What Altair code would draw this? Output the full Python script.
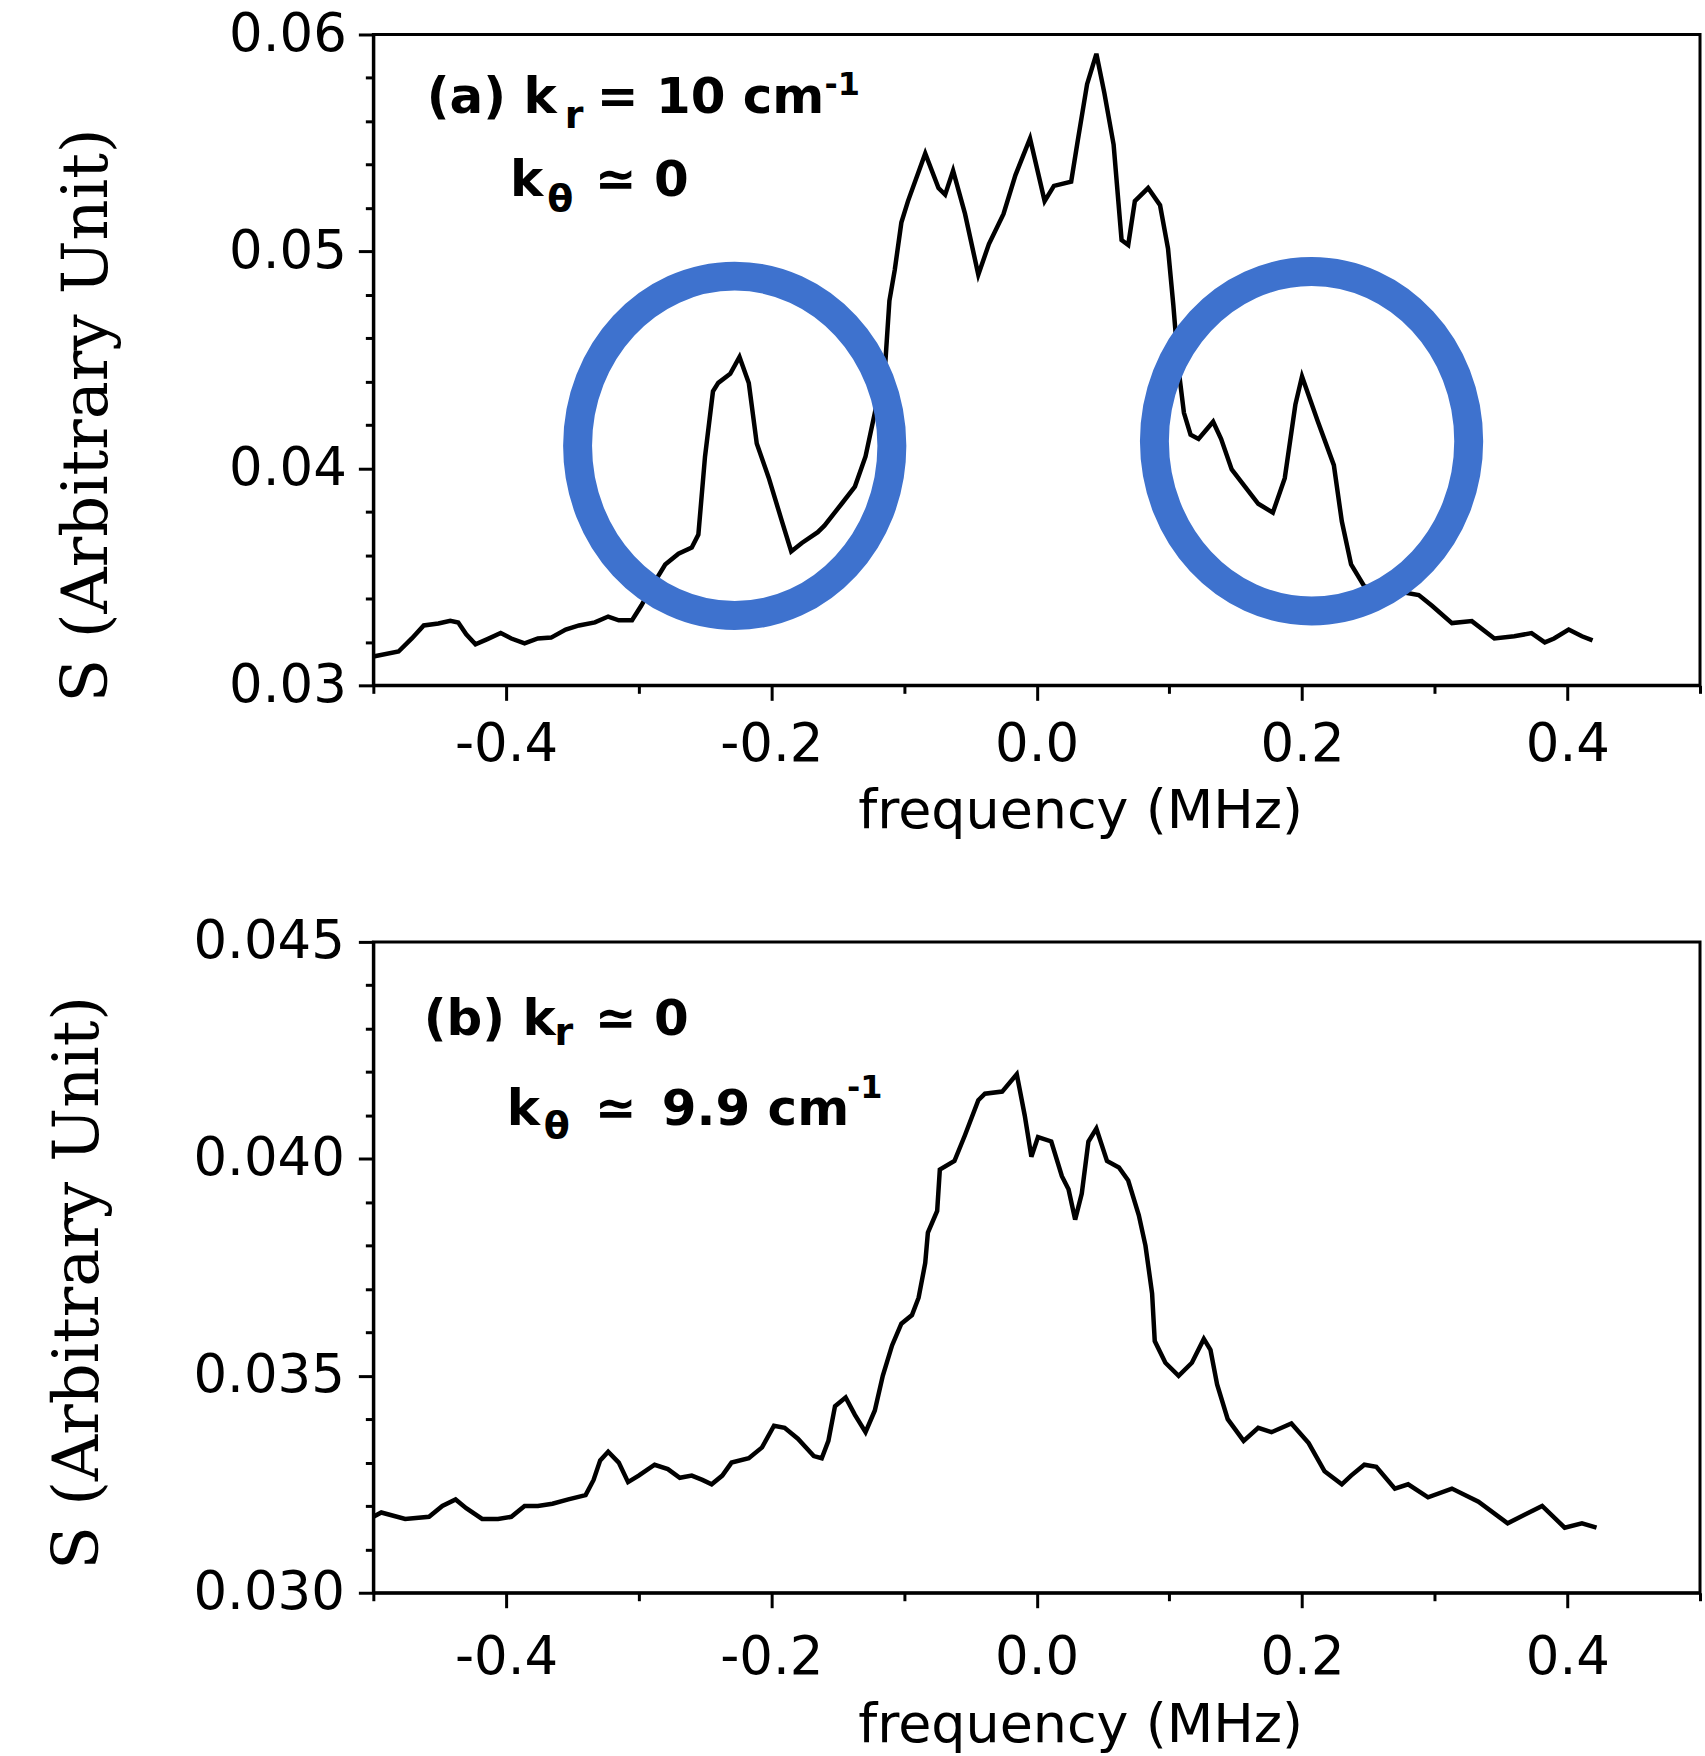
import altair as alt
import pandas as pd

# ---------------- Panel (a): k_r = 10 cm^-1, k_theta ~ 0 ----------------
freq_a = [-0.500, -0.481, -0.471, -0.462, -0.451, -0.442, -0.436, -0.430, -0.423, -0.414,
          -0.404, -0.396, -0.386, -0.376, -0.366, -0.355, -0.345, -0.333, -0.323, -0.315,
          -0.305, -0.298, -0.290, -0.280, -0.270, -0.260, -0.255, -0.250, -0.244, -0.240,
          -0.231, -0.224, -0.217, -0.211, -0.202, -0.192, -0.185, -0.177, -0.165, -0.160,
          -0.147, -0.137, -0.129, -0.122, -0.114, -0.111, -0.107, -0.102, -0.097, -0.084,
          -0.074, -0.069, -0.063, -0.054, -0.044, -0.036, -0.025, -0.016, -0.005, 0.006,
          0.013, 0.026, 0.031, 0.038, 0.045, 0.051, 0.058, 0.064, 0.069, 0.074,
          0.084, 0.093, 0.099, 0.103, 0.107, 0.111, 0.116, 0.122, 0.133, 0.139,
          0.147, 0.157, 0.167, 0.178, 0.187, 0.195, 0.200, 0.212, 0.224, 0.230,
          0.237, 0.247, 0.262, 0.275, 0.288, 0.298, 0.313, 0.328, 0.345, 0.360,
          0.373, 0.383, 0.390, 0.401, 0.411, 0.419]
spec_a = [0.03133, 0.03156, 0.03216, 0.03276, 0.03285, 0.03297, 0.03290, 0.03235, 0.03189, 0.03213,
          0.03241, 0.03216, 0.03193, 0.03216, 0.03220, 0.03257, 0.03276, 0.03290, 0.03317, 0.03300,
          0.03300, 0.03368, 0.03456, 0.03557, 0.03607, 0.03635, 0.03695, 0.04054, 0.04355, 0.04394,
          0.04436, 0.04514, 0.04394, 0.04115, 0.03957, 0.03756, 0.03617, 0.03656, 0.03706, 0.03736,
          0.03837, 0.03916, 0.04055, 0.04256, 0.04495, 0.04773, 0.04914, 0.05133, 0.05232, 0.05452,
          0.05292, 0.05262, 0.05372, 0.05173, 0.04893, 0.05034, 0.05173, 0.05352, 0.05521, 0.05232,
          0.05302, 0.05322, 0.05512, 0.05771, 0.05911, 0.05731, 0.05492, 0.05053, 0.05030, 0.05232,
          0.05292, 0.05213, 0.05013, 0.04753, 0.04454, 0.04256, 0.04155, 0.04136, 0.04215, 0.04136,
          0.03995, 0.03916, 0.03837, 0.03796, 0.03955, 0.04294, 0.04424, 0.04215, 0.04015, 0.03756,
          0.03557, 0.03456, 0.03440, 0.03430, 0.03416, 0.03367, 0.03287, 0.03296, 0.03216, 0.03226,
          0.03241, 0.03198, 0.03216, 0.03257, 0.03226, 0.03207]

# ---------------- Panel (b): k_r ~ 0, k_theta ~ 9.9 cm^-1 ----------------
freq_b = [-0.500, -0.494, -0.476, -0.458, -0.448, -0.438, -0.430, -0.418, -0.406, -0.396,
          -0.386, -0.376, -0.365, -0.353, -0.340, -0.334, -0.329, -0.323, -0.315, -0.308,
          -0.300, -0.288, -0.278, -0.269, -0.260, -0.252, -0.245, -0.237, -0.230, -0.217,
          -0.207, -0.198, -0.190, -0.180, -0.168, -0.162, -0.157, -0.152, -0.144, -0.137,
          -0.129, -0.122, -0.116, -0.109, -0.102, -0.094, -0.089, -0.084, -0.082, -0.075,
          -0.073, -0.062, -0.054, -0.044, -0.039, -0.026, -0.015, -0.009, -0.004, 0.001,
          0.011, 0.019, 0.024, 0.029, 0.034, 0.039, 0.045, 0.053, 0.062, 0.069,
          0.077, 0.082, 0.087, 0.089, 0.097, 0.107, 0.117, 0.126, 0.131, 0.136,
          0.144, 0.156, 0.167, 0.177, 0.192, 0.205, 0.217, 0.230, 0.237, 0.247,
          0.256, 0.270, 0.280, 0.295, 0.313, 0.333, 0.355, 0.381, 0.398, 0.411,
          0.422]
spec_b = [0.03175, 0.03185, 0.03170, 0.03175, 0.03200, 0.03215, 0.03195, 0.03170, 0.03170, 0.03175,
          0.03200, 0.03200, 0.03205, 0.03215, 0.03225, 0.03260, 0.03305, 0.03325, 0.03300, 0.03255,
          0.03270, 0.03295, 0.03285, 0.03265, 0.03270, 0.03260, 0.03250, 0.03270, 0.03300, 0.03310,
          0.03335, 0.03385, 0.03380, 0.03355, 0.03315, 0.03310, 0.03350, 0.03430, 0.03450, 0.03410,
          0.03370, 0.03420, 0.03500, 0.03570, 0.03620, 0.03640, 0.03680, 0.03760, 0.03830, 0.03880,
          0.03975, 0.03995, 0.04055, 0.04135, 0.04150, 0.04155, 0.04195, 0.04100, 0.04005, 0.04050,
          0.04040, 0.03960, 0.03930, 0.03860, 0.03920, 0.04040, 0.04070, 0.03995, 0.03980, 0.03950,
          0.03870, 0.03800, 0.03690, 0.03580, 0.03530, 0.03500, 0.03530, 0.03585, 0.03560, 0.03480,
          0.03400, 0.03350, 0.03380, 0.03370, 0.03390, 0.03345, 0.03280, 0.03250, 0.03270, 0.03295,
          0.03290, 0.03240, 0.03250, 0.03220, 0.03240, 0.03210, 0.03160, 0.03200, 0.03150, 0.03160,
          0.03150]

# ---------------- Axis tick values ----------------
x_ticks = [-0.5, -0.4, -0.3, -0.2, -0.1, 0.0, 0.1, 0.2, 0.3, 0.4, 0.5]
y_ticks_a = [0.030, 0.032, 0.034, 0.036, 0.038, 0.040, 0.042, 0.044, 0.046, 0.048,
             0.050, 0.052, 0.054, 0.056, 0.058, 0.060]
y_ticks_b = [0.030, 0.031, 0.032, 0.033, 0.034, 0.035, 0.036, 0.037, 0.038, 0.039,
             0.040, 0.041, 0.042, 0.043, 0.044, 0.045]

# ---------------- Annotations ----------------
a_main_text = ["(a) k", "= 10 cm", "k", "\u2243 0"]
a_main_f = [-0.4597, -0.3316, -0.397, -0.333]
a_main_s = [0.05636, 0.05636, 0.05255, 0.05255]
a_sub_text = ["r", "\u03b8"]
a_sub_f = [-0.3557, -0.369]
a_sub_s = [0.05567, 0.05186]
a_sup_text = ["-1"]
a_sup_f = [-0.160]
a_sup_s = [0.05719]

b_main_text = ["(b) k", "\u2243 0", "k", "\u2243", "9.9 cm"]
b_main_f = [-0.462, -0.333, -0.3994, -0.333, -0.2826]
b_main_s = [0.04285, 0.04285, 0.04078, 0.04078, 0.04078]
b_sub_text = ["r", "\u03b8"]
b_sub_f = [-0.3635, -0.3715]
b_sub_s = [0.04262, 0.04048]
b_sup_text = ["-1"]
b_sup_f = [-0.143]
b_sup_s = [0.0414]

# highlighted peaks in panel (a)
circle_f = [-0.2276, 0.2072]
circle_s = [0.04104, 0.04125]

BLUE = "#3E72CE"
ELLIPSE = "M -0.926 0 A 0.926 1 0 1 1 0.926 0 A 0.926 1 0 1 1 -0.926 0 Z"

X_MAJOR = "abs(datum.value*5 - round(datum.value*5)) < 0.001"


def make_panel(freq, spec, ydom, yticks, ymul, yfmt, ytitle_x, ytitle_y,
               xlabel_pad, xtitle_y, ylabel_pad, main, sub, sup, circles=None):
    xscale = alt.Scale(domain=[-0.5, 0.5], nice=False, zero=False)
    yscale = alt.Scale(domain=ydom, nice=False, zero=False)
    y_major = f"abs(datum.value*{ymul} - round(datum.value*{ymul})) < 0.001"
    xaxis = alt.Axis(
        values=x_ticks, title="frequency (MHz)",
        labelExpr=f"{X_MAJOR} ? replace(format(datum.value, '.1f'), '\u2212', '-') : ''",
        tickSize={"condition": {"test": X_MAJOR, "value": 15}, "value": 8},
        labelPadding=xlabel_pad, titleX=708, titleY=xtitle_y,
        titleAlign="center", titleBaseline="top",
        labelOverlap=False, labelFlush=False, grid=False)
    yaxis = alt.Axis(
        values=yticks, title="S (Arbitrary Unit)",
        labelExpr=f"{y_major} ? format(datum.value, '{yfmt}') : ''",
        tickSize={"condition": {"test": y_major, "value": 15}, "value": 8},
        labelPadding=ylabel_pad, titleX=ytitle_x, titleY=ytitle_y, titleAngle=270,
        titleAlign="center", titleBaseline="middle",
        titleFont="DejaVu Serif", titleFontSize=64,
        labelOverlap=False, labelFlush=False, grid=False)

    line = alt.Chart(pd.DataFrame({"f": freq, "S": spec})).mark_line(
        color="black", strokeWidth=4.5
    ).encode(
        x=alt.X("f:Q", scale=xscale, axis=xaxis),
        y=alt.Y("S:Q", scale=yscale, axis=yaxis),
    )

    def text_layer(pieces, size):
        t, f, s = pieces
        return alt.Chart(pd.DataFrame({"f": f, "S": s, "t": t})).mark_text(
            align="left", baseline="alphabetic", font="DejaVu Sans",
            fontWeight="bold", fontSize=size, color="black"
        ).encode(
            x=alt.X("f:Q", scale=xscale),
            y=alt.Y("S:Q", scale=yscale),
            text="t:N",
        )

    layers = [line, text_layer(main, 50), text_layer(sub, 38), text_layer(sup, 32)]
    if circles is not None:
        cf, cs = circles
        ell = alt.Chart(pd.DataFrame({"f": cf, "S": cs})).mark_point(
            shape=ELLIPSE, size=115600, filled=False, strokeWidth=29,
            color=BLUE, opacity=1
        ).encode(
            x=alt.X("f:Q", scale=xscale),
            y=alt.Y("S:Q", scale=yscale),
        )
        layers.append(ell)
    return alt.layer(*layers).properties(width=1329, height=652)


panel_a = make_panel(freq_a, spec_a, [0.03, 0.06], y_ticks_a, 100, ".2f",
                     -286, 381, 18, 99, 12,
                     (a_main_text, a_main_f, a_main_s),
                     (a_sub_text, a_sub_f, a_sub_s),
                     (a_sup_text, a_sup_f, a_sup_s),
                     circles=(circle_f, circle_s))
panel_b = make_panel(freq_b, spec_b, [0.03, 0.045], y_ticks_b, 200, ".3f",
                     -295, 341, 24, 106, 14,
                     (b_main_text, b_main_f, b_main_s),
                     (b_sub_text, b_sub_f, b_sub_s),
                     (b_sup_text, b_sup_f, b_sup_s))

chart = alt.vconcat(panel_a, panel_b, spacing=74).properties(
    padding={"left": 45, "top": 5, "right": 2, "bottom": 0},
    background="white",
).configure_view(
    stroke="black", strokeWidth=3
).configure_axis(
    domainColor="black", domainWidth=3, tickColor="black", tickWidth=3,
    labelFont="DejaVu Sans", labelFontSize=53, labelColor="black",
    titleFont="DejaVu Sans", titleFontSize=54, titleFontWeight="normal",
    titleColor="black",
)

chart.save("out.html", embed_options={"renderer": "svg", "actions": False})
